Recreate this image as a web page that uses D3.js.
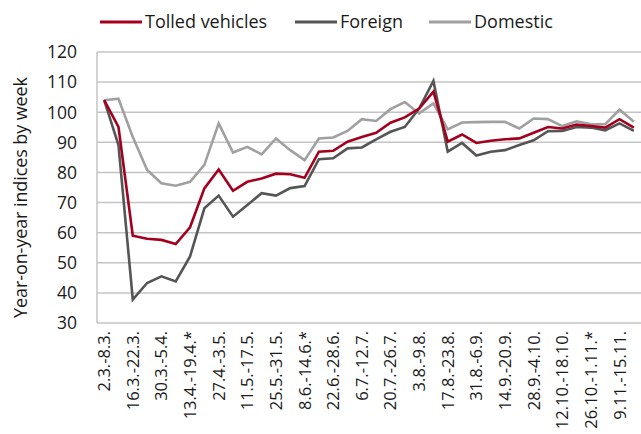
<!DOCTYPE html>
<html>
<head>
<meta charset="utf-8">
<script src="https://cdn.jsdelivr.net/npm/d3@7"></script>
<style>
  html, body { margin: 0; padding: 0; background: #fff; }
  svg { display: block; font-family: "Open Sans", sans-serif; }
</style>
</head>
<body>
<div id="chart"></div>
<script>
// weekly periods (every second one is labelled on the axis)
const weeks = [
  '2.3.-8.3.', '9.3.-15.3.', '16.3.-22.3.', '23.3.-29.3.', '30.3.-5.4.', '6.4.-12.4.',
  '13.4.-19.4.*', '20.4.-26.4.', '27.4.-3.5.', '4.5.-10.5.', '11.5.-17.5.', '18.5.-24.5.',
  '25.5.-31.5.', '1.6.-7.6.', '8.6.-14.6.*', '15.6.-21.6.', '22.6.-28.6.', '29.6.-5.7.',
  '6.7.-12.7.', '13.7.-19.7.', '20.7.-26.7.', '27.7.-2.8.', '3.8.-9.8.', '10.8.-16.8.',
  '17.8.-23.8.', '24.8.-30.8.', '31.8.-6.9.', '7.9.-13.9.', '14.9.-20.9.', '21.9.-27.9.',
  '28.9.-4.10.', '5.10.-11.10.', '12.10.-18.10.', '19.10.-25.10.', '26.10.-1.11.*', '2.11.-8.11.',
  '9.11.-15.11.', '16.11.-22.11.'
];

const tolled = [
  104.0, 95.1, 59.0, 58.0, 57.6, 56.2, 61.8, 74.7, 81.0, 73.9, 76.9, 78.0,
  79.6, 79.4, 78.2, 86.9, 87.2, 90.2, 91.8, 93.2, 96.5, 98.3, 101.2, 106.8,
  90.2, 92.6, 89.8, 90.5, 91.0, 91.3, 93.2, 95.1, 94.6, 95.9, 95.4, 94.9,
  97.7, 94.9
];

const foreign = [
  104.0, 89.1, 37.8, 43.3, 45.5, 43.8, 52.1, 68.1, 72.3, 65.3, 69.2, 73.1,
  72.3, 74.8, 75.5, 84.4, 84.7, 88.0, 88.3, 91.0, 93.5, 95.1, 101.2, 110.4,
  86.9, 89.8, 85.6, 86.9, 87.4, 89.1, 90.7, 93.7, 93.8, 95.1, 94.9, 94.0,
  96.3, 93.8
];

const domestic = [
  104.0, 104.5, 91.8, 80.8, 76.4, 75.6, 76.9, 82.5, 96.3, 86.6, 88.5, 86.0,
  91.3, 87.4, 84.1, 91.3, 91.6, 93.8, 97.7, 97.1, 101.0, 103.4, 99.6, 102.9,
  94.3, 96.6, 96.7, 96.8, 96.8, 94.6, 97.9, 97.7, 95.4, 97.0, 96.0, 96.0,
  100.9, 96.8
];

const yTicks = [30, 40, 50, 60, 70, 80, 90, 100, 110, 120];

const series = [
  { key: 'tolled', label: 'Tolled vehicles', color: '#a3001e', values: tolled },
  { key: 'foreign', label: 'Foreign', color: '#555555', values: foreign },
  { key: 'domestic', label: 'Domestic', color: '#a0a0a0', values: domestic }
];

const W = 641, H = 434;
const margin = { top: 52, right: 0, bottom: 111, left: 97 };
const w = W - margin.left - margin.right;
const h = H - margin.top - margin.bottom;

const svg = d3.select('#chart').append('svg')
  .attr('width', W).attr('height', H);

const g = svg.append('g')
  .attr('transform', `translate(${margin.left},${margin.top})`);

const x = d3.scalePoint().domain(weeks).range([0, w]).padding(0.5);
const y = d3.scaleLinear().domain([30, 120]).range([h, 0]);

// gridlines
g.selectAll('.grid')
  .data(yTicks)
  .join('line')
  .attr('class', 'grid')
  .attr('x1', 0).attr('x2', w)
  .attr('y1', d => y(d)).attr('y2', d => y(d))
  .attr('stroke', '#c4c4c4')
  .attr('stroke-width', 1.5);

// left axis line
g.append('line')
  .attr('x1', 0).attr('x2', 0)
  .attr('y1', 0).attr('y2', h)
  .attr('stroke', '#c4c4c4')
  .attr('stroke-width', 1.5);

// y tick labels
g.selectAll('.ytick')
  .data(yTicks)
  .join('text')
  .attr('class', 'ytick')
  .attr('x', -20)
  .attr('y', d => y(d))
  .attr('dy', '0.36em')
  .attr('text-anchor', 'end')
  .attr('font-size', 17.5)
  .attr('fill', '#1a1a1a')
  .text(d => d);

// x labels, every second week
g.selectAll('.xtick')
  .data(weeks.filter((d, i) => i % 2 === 0))
  .join('text')
  .attr('class', 'xtick')
  .attr('transform', d => `translate(${x(d) + 6},${h + 8}) rotate(-90)`)
  .attr('text-anchor', 'end')
  .attr('font-size', 16.5)
  .attr('fill', '#1a1a1a')
  .text(d => d);

// y axis title
svg.append('text')
  .attr('transform', `translate(27,${margin.top + h / 2 + 10}) rotate(-90)`)
  .attr('text-anchor', 'middle')
  .attr('font-size', 18)
  .attr('letter-spacing', -0.1)
  .attr('fill', '#1a1a1a')
  .text('Year-on-year indices by week');

// lines (domestic drawn first, red on top)
const line = d3.line()
  .x((d, i) => x(weeks[i]))
  .y(d => y(d));

g.selectAll('.series')
  .data(series.slice().reverse())
  .join('path')
  .attr('class', 'series')
  .attr('d', d => line(d.values))
  .attr('fill', 'none')
  .attr('stroke', d => d.color)
  .attr('stroke-width', 2.6)
  .attr('stroke-linejoin', 'miter');

// legend
const legendX = [100, 295, 429];
const lg = svg.append('g').attr('transform', 'translate(0,22)');
series.forEach((s, i) => {
  lg.append('line')
    .attr('x1', legendX[i]).attr('x2', legendX[i] + 42)
    .attr('y1', 0).attr('y2', 0)
    .attr('stroke', s.color)
    .attr('stroke-width', 3);
  lg.append('text')
    .attr('x', legendX[i] + 45)
    .attr('y', 0)
    .attr('dy', '0.36em')
    .attr('font-size', 18)
    .attr('fill', '#1a1a1a')
    .text(s.label);
});
</script>
</body>
</html>
